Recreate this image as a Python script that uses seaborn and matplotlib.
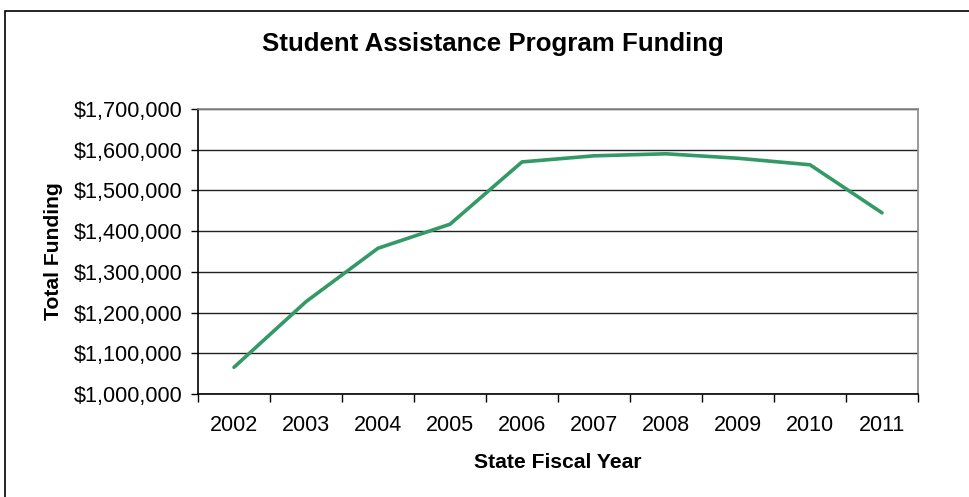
import matplotlib
matplotlib.use("Agg")
import matplotlib.pyplot as plt
import seaborn as sns
import pandas as pd
from matplotlib.ticker import FuncFormatter, FixedLocator
from matplotlib.patches import Rectangle

years = ["2002", "2003", "2004", "2005", "2006", "2007", "2008", "2009", "2010", "2011"]
funding = [1065600, 1226800, 1358000, 1417000, 1570000, 1585000, 1590000, 1579000, 1563000, 1445000]

df = pd.DataFrame({"year": years, "funding": funding})

sns.set_theme(style="white")
plt.rcParams["font.family"] = ["Liberation Sans", "DejaVu Sans"]

W, H = 969, 497
fig = plt.figure(figsize=(W / 100, H / 100), dpi=100)
ax = fig.add_axes([198 / W, 1 - 394 / H, (918 - 198) / W, (394 - 109) / H])

sns.lineplot(data=df, x="year", y="funding", ax=ax, color="#339966", linewidth=2.6, sort=False)

ax.set_xlim(-0.5, len(years) - 0.5)
ax.set_ylim(1000000, 1700000)
ax.set_yticks(range(1000000, 1700001, 100000))
ax.yaxis.set_major_formatter(FuncFormatter(lambda v, p: f"${v:,.0f}"))
ax.grid(axis="y", color="#222222", linewidth=1.0)
ax.set_axisbelow(True)

ax.set_xticks(range(len(years)))
ax.set_xticklabels(years)
ax.xaxis.set_minor_locator(FixedLocator([i - 0.5 for i in range(len(years) + 1)]))
ax.tick_params(axis="x", which="major", length=0, pad=15, labelsize=15.5, colors="black")
ax.tick_params(axis="x", which="minor", length=6, width=1, color="black", direction="out", bottom=True)
ax.tick_params(axis="y", which="major", length=5, width=1, color="black", direction="out", left=True, pad=6, labelsize=15.6, labelcolor="black")

for s in ["left", "bottom"]:
    ax.spines[s].set_color("black")
    ax.spines[s].set_linewidth(1.2)
for s in ["right", "top"]:
    ax.spines[s].set_visible(True)
    ax.spines[s].set_color("#888888")
    ax.spines[s].set_linewidth(1.2)

ax.set_xlabel("State Fiscal Year", fontsize=15.2, fontweight="bold", labelpad=12, color="black")
ax.set_ylabel("Total Funding", fontsize=15.2, fontweight="bold", labelpad=8, color="black")

fig.text(493 / W, 1 - 44 / H, "Student Assistance Program Funding", ha="center", va="center",
         fontsize=18.6, fontweight="bold", color="black")

fig.patches.append(Rectangle((5 / W, -0.1), 1.2, 1 - 11 / H + 0.1, transform=fig.transFigure,
                             fill=False, edgecolor="black", linewidth=1.2))

fig.savefig("out.png", dpi=100)
